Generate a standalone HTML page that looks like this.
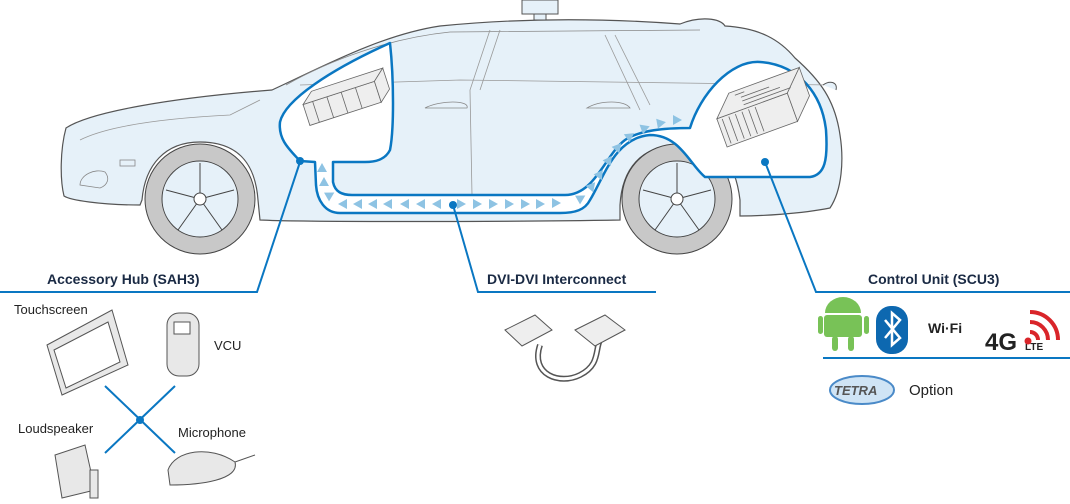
<!DOCTYPE html>
<html><head><meta charset="utf-8"><style>
html,body{margin:0;padding:0;background:#fff;width:1070px;height:504px;overflow:hidden}
svg{display:block}
text{font-family:"Liberation Sans",sans-serif}
</style></head><body>
<svg width="1070" height="504" viewBox="0 0 1070 504" xmlns="http://www.w3.org/2000/svg">
<defs>
<g id="tri"><polygon points="-4,-5 5,0 -4,5" fill="#8ec3e3"/></g>
</defs>
<!-- car body -->
<path d="M66,128 C90,112 170,98 272,90 C320,68 380,35 440,26 C520,18 600,18 680,24 C700,16 720,18 725,26 C760,28 780,40 795,58 C820,80 835,100 840,135 C844,160 842,190 830,208 C800,214 760,216 740,216 L740,200 C735,160 720,145 680,145 C640,145 622,170 620,205 L620,220 C500,222 300,222 260,220 L258,200 C255,160 235,142 200,142 C165,142 145,165 142,200 L140,205 C100,205 70,200 64,196 C60,180 60,150 66,128 Z" fill="#e6f1f9" stroke="#555" stroke-width="1.2"/>
<path d="M286,85 C330,60 390,38 450,32 L700,30" fill="none" stroke="#888" stroke-width="0.8"/>
<path d="M300,85 L460,80 L830,85" fill="none" stroke="#999" stroke-width="0.7"/>
<path d="M490,30 L470,90 L472,195" fill="none" stroke="#999" stroke-width="0.8"/>
<path d="M500,30 L480,90" fill="none" stroke="#999" stroke-width="0.8"/>
<path d="M605,35 L640,110" fill="none" stroke="#999" stroke-width="0.8"/>
<path d="M615,35 L650,105" fill="none" stroke="#999" stroke-width="0.8"/>
<path d="M425,108 C440,100 470,100 467,108 Z M587,108 C600,100 625,100 630,108 Z" fill="none" stroke="#888" stroke-width="0.8"/>
<path d="M80,140 C110,125 170,118 230,115 L260,100" fill="none" stroke="#999" stroke-width="0.8"/>
<rect x="120" y="160" width="15" height="6" fill="none" stroke="#888" stroke-width="0.8"/>
<path d="M80,185 C80,175 95,168 105,172 C110,178 108,185 100,188 Z" fill="none" stroke="#888" stroke-width="0.8"/>
<rect x="522" y="0" width="36" height="14" fill="#e6f1f9" stroke="#555"/>
<rect x="534" y="14" width="12" height="6" fill="#e6f1f9" stroke="#555"/>
<path d="M823,85 C830,80 838,82 836,90" fill="#e6f1f9" stroke="#555"/>
<!-- wheels -->
<g fill="#c8c8c8" stroke="#444" stroke-width="1">
<circle cx="200" cy="199" r="55"/><circle cx="677" cy="199" r="55"/></g>
<g fill="#e6f1f9" stroke="#444" stroke-width="1">
<circle cx="200" cy="199" r="38"/><circle cx="677" cy="199" r="38"/></g>
<g stroke="#444" stroke-width="1" fill="none">
<path d="M200,199 L200,163 M200,199 L234,190 M200,199 L222,230 M200,199 L178,230 M200,199 L166,190"/>
<path d="M677,199 L677,163 M677,199 L711,190 M677,199 L699,230 M677,199 L655,230 M677,199 L643,190"/>
<circle cx="200" cy="199" r="6" fill="#fff"/><circle cx="677" cy="199" r="6" fill="#fff"/></g>
<!-- blue highlight region -->
<path d="M300,161 C290,150 278,140 280,122 C285,100 330,70 390,43 C394,80 394,130 390,150 C385,160 375,162 365,162 L333,162 L333,182 C335,192 342,195 352,195 L565,195 C595,195 605,155 625,140 C640,130 665,128 690,128 C700,95 730,60 760,62 C800,65 822,95 826,130 C828,160 825,175 810,177 L705,177 C690,165 680,135 650,135 C615,138 605,175 590,200 C585,210 575,213 560,213 L340,213 C325,213 317,200 316,185 L315,162 Z" fill="#fff" stroke="#0a77c2" stroke-width="2.5" stroke-linejoin="round"/>
<!-- hub device -->
<g transform="translate(300,95) rotate(-18)" stroke="#666" stroke-width="0.8" fill="#eee">
<rect x="0" y="10" width="75" height="22"/><polygon points="0,10 12,0 87,0 75,10"/><polygon points="75,10 87,0 87,22 75,32"/>
<path d="M10,10 L10,32 M25,10 L25,32 M40,10 L40,32 M55,10 L55,32" fill="none"/></g>
<!-- control unit device -->
<g transform="translate(710,100) rotate(-20)" stroke="#666" stroke-width="0.8" fill="#eee">
<rect x="0" y="20" width="75" height="30"/><polygon points="0,20 20,0 95,0 75,20"/><polygon points="75,20 95,0 95,30 75,50"/>
<path d="M25,4 L35,4 M30,8 L60,8 M30,12 L70,12 M30,16 L80,16" fill="none"/>
<path d="M5,22 L5,48 M12,22 L12,48 M19,22 L19,48 M26,22 L26,48 M33,22 L33,48 M40,22 L40,48" fill="none"/></g>
<!-- triangles -->
<g>
<use href="#tri" transform="translate(322,168) rotate(-90)"/>
<use href="#tri" transform="translate(324,182) rotate(-90)"/>
<use href="#tri" transform="translate(330,195) rotate(-30)"/>
<use href="#tri" transform="translate(343,204) rotate(180)"/>
<use href="#tri" transform="translate(358,204) rotate(180)"/>
<use href="#tri" transform="translate(373,204) rotate(180)"/>
<use href="#tri" transform="translate(388,204) rotate(180)"/>
<use href="#tri" transform="translate(405,204) rotate(180)"/>
<use href="#tri" transform="translate(421,204) rotate(180)"/>
<use href="#tri" transform="translate(437,204) rotate(180)"/>
<use href="#tri" transform="translate(461,204)"/>
<use href="#tri" transform="translate(477,204)"/>
<use href="#tri" transform="translate(493,204)"/>
<use href="#tri" transform="translate(509,204)"/>
<use href="#tri" transform="translate(525,204)"/>
<use href="#tri" transform="translate(540,204)"/>
<use href="#tri" transform="translate(556,203)"/>
<use href="#tri" transform="translate(581,198) rotate(-30)"/>
<use href="#tri" transform="translate(592,186) rotate(-50)"/>
<use href="#tri" transform="translate(600,174) rotate(-55)"/>
<use href="#tri" transform="translate(609,160) rotate(-55)"/>
<use href="#tri" transform="translate(618,147) rotate(-50)"/>
<use href="#tri" transform="translate(630,136) rotate(-35)"/>
<use href="#tri" transform="translate(645,128) rotate(-20)"/>
<use href="#tri" transform="translate(661,123) rotate(-10)"/>
<use href="#tri" transform="translate(677,120)"/>
</g>
<!-- leader lines -->
<g stroke="#0a77c2" stroke-width="2" fill="none">
<path d="M0,292 L257,292 L300,162"/>
<path d="M453,205 L478,292 L656,292"/>
<path d="M765,162 L816,292 L1070,292"/>
<path d="M823,358 L1070,358"/>
<path d="M105,386 L175,453 M175,386 L105,453"/>
</g>
<g fill="#0a77c2"><circle cx="300" cy="161" r="4"/><circle cx="453" cy="205" r="4"/><circle cx="765" cy="162" r="4"/><circle cx="140" cy="420" r="4"/></g>
<!-- labels -->
<g font-weight="bold" font-size="14" fill="#1a2a44">
<text x="47" y="284">Accessory Hub (SAH3)</text>
<text x="487" y="284">DVI-DVI Interconnect</text>
<text x="868" y="284">Control Unit (SCU3)</text></g>
<g font-size="13" fill="#222">
<text x="14" y="314">Touchscreen</text><text x="214" y="350">VCU</text>
<text x="18" y="433">Loudspeaker</text><text x="178" y="437">Microphone</text>
<text x="909" y="395" font-size="15">Option</text></g>
<!-- device sketches -->
<g stroke="#555" stroke-width="1" fill="#e8e8e8">
<polygon points="47,345 112,310 128,365 62,395"/><polygon points="54,350 108,322 120,362 66,388" fill="#fff"/>
<rect x="167" y="313" width="32" height="63" rx="12"/><rect x="174" y="322" width="16" height="12" fill="#fff"/>
<polygon points="55,455 85,445 95,490 62,498"/><rect x="90" y="470" width="8" height="28"/>
<path d="M168,470 C175,450 210,445 235,462 C240,480 200,485 170,485 Z"/>
<path d="M235,462 L255,455" fill="none"/>
</g>
<!-- DVI cable -->
<g stroke="#555" stroke-width="1" fill="#eee">
<path d="M540,345 C530,375 560,385 580,375 C600,365 595,350 600,340" fill="none" stroke-width="6"/>
<path d="M540,345 C530,375 560,385 580,375 C600,365 595,350 600,340" fill="none" stroke="#fff" stroke-width="3"/>
<polygon points="505,330 535,315 552,330 522,346"/><polygon points="575,330 605,315 625,330 595,346"/></g>
<!-- icons -->
<g fill="#78c257"><rect x="824" y="315" width="38" height="22" rx="3"/><path d="M825,313 A18,16 0 0 1 861,313 Z"/>
<rect x="832" y="336" width="6" height="15" rx="3"/><rect x="848" y="336" width="6" height="15" rx="3"/>
<rect x="818" y="316" width="5" height="18" rx="2.5"/><rect x="864" y="316" width="5" height="18" rx="2.5"/></g>
<rect x="876" y="306" width="32" height="48" rx="15" fill="#0d68b0"/>
<path d="M885,320 L900,338 L892,345 L892,313 L900,320 L885,338" fill="none" stroke="#fff" stroke-width="2.5"/>
<text x="928" y="333" font-size="14" font-weight="bold" fill="#222">Wi·Fi</text>
<text x="985" y="350" font-size="24" font-weight="bold" fill="#222">4G</text>
<text x="1025" y="350" font-size="10" font-weight="bold" fill="#222">LTE</text>
<g fill="none" stroke="#d9252a" stroke-width="4"><path d="M1030,332 A8,8 0 0 1 1038,340"/><path d="M1030,322 A18,18 0 0 1 1048,340"/><path d="M1030,312 A28,28 0 0 1 1058,340"/></g>
<circle cx="1028" cy="341" r="3.5" fill="#d9252a"/>
<ellipse cx="862" cy="390" rx="32" ry="14" fill="#cfe4f5" stroke="#4a8ac8" stroke-width="2"/>
<text x="834" y="395" font-size="13" font-weight="bold" font-style="italic" fill="#555">TETRA</text>
</svg>
</body></html>
